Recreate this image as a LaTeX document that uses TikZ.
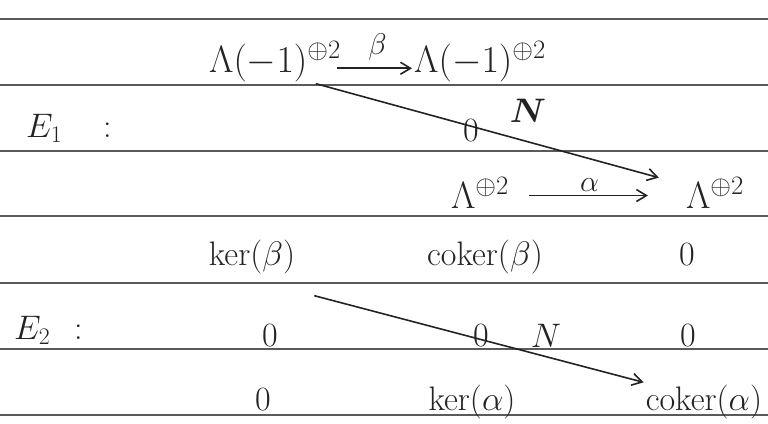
\RequirePackage{fix-cm}
\documentclass[tikz,border=0pt]{standalone}
\definecolor{pencil}{RGB}{35,35,35}
\definecolor{ruling}{RGB}{90,90,90}
\usepackage{amsmath,amssymb}
\usepackage{tikz}
\usetikzlibrary{arrows.meta,positioning,calc}
\usepackage{bm}

\begin{document}
\begin{tikzpicture}[x=1pt, y=-1pt,
    entry/.style={anchor=base, inner sep=2pt, text=pencil, font=\fontsize{34}{40}\selectfont},
    bigentry/.style={entry, font=\fontsize{38}{44}\selectfont},
    rowlabel/.style={entry, anchor=base west},
    diff/.style={draw=pencil, line width=1.6pt, -{Straight Barb[length=10pt,width=12pt]}}]
      \useasboundingbox (0,0) rectangle (768,423);
      % Ruled paper
      \foreach \y in {19,85,151,216,283,349,415}{
        \draw[ruling, line width=1.1pt] (0,\y) -- (768,\y);
      }
      % E_1 page
      \node[bigentry] (La) at (275,72) {$\Lambda(-1)^{\oplus 2}$};
      \node[bigentry] (Lb) at (480,72) {$\Lambda(-1)^{\oplus 2}$};
      \node[rowlabel] (E1) at (24,137) {$E_1$\hspace{1.2em}:};
      \node[entry] (z1) at (471,141) {$0$};
      \node[entry, anchor=center] (N1) at (528,111) {$\bm{N}$};
      \node[bigentry] (Lc) at (480,208) {$\Lambda^{\oplus 2}$};
      \node[bigentry] (Ld) at (715,208) {$\Lambda^{\oplus 2}$};
      \draw[diff, shorten <=-6pt] ([yshift=-7pt]La.east) -- node[above, yshift=4pt, text=pencil, font=\fontsize{30}{34}\selectfont] {$\beta$} ([yshift=-7pt]Lb.west);
      \draw[diff, shorten <=18pt, shorten >=36pt] ([yshift=-3pt]Lc.east) -- node[above, xshift=-8pt, text=pencil, font=\fontsize{30}{34}\selectfont] {$\alpha$} ([yshift=-3pt]Ld.west);
      \draw[diff, shorten >=26pt] ($(La.south)!0.6!(La.south east)$) -- ([yshift=8pt]Ld.west);
      % E_2 page
      \node[entry] (K1) at (252,265) {$\ker(\beta)$};
      \node[entry] (C1) at (485,265) {$\operatorname{coker}(\beta)$};
      \node[entry] (z2) at (687,265) {$0$};
      \node[rowlabel] (E2) at (12,339) {$E_2$\hspace{0.7em}:};
      \node[entry] (z3) at (270,346) {$0$};
      \node[entry] (z4) at (481,346) {$0$};
      \node[entry] (N2) at (546,347) {$N$};
      \node[entry] (z5) at (688,346) {$0$};
      \node[entry] (z6) at (263,410) {$0$};
      \node[entry] (K2) at (472,410) {$\ker(\alpha)$};
      \node[entry] (C2) at (704,410) {$\operatorname{coker}(\alpha)$};
      \draw[diff] ($(K1.south east)+(17,20)$) -- (C2.north west);
\end{tikzpicture}
\end{document}
